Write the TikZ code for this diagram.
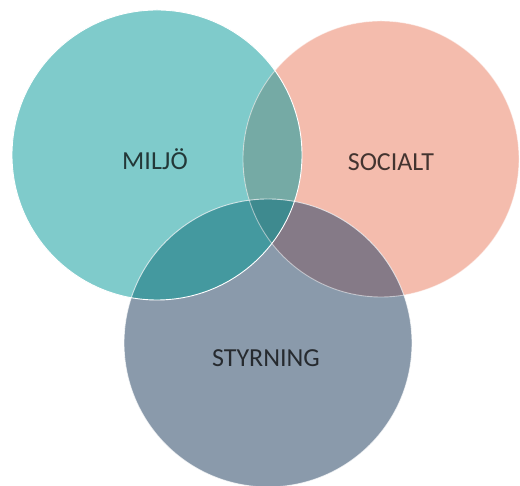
\documentclass[tikz,border=0pt]{standalone}
\usepackage{fontspec}
\setmainfont{Carlito}
\usetikzlibrary{positioning}
\definecolor{miljocolor}{RGB}{127,203,203}
\definecolor{socialcolor}{RGB}{244,188,173}
\definecolor{styrcolor}{RGB}{138,154,171}
\definecolor{mscolor}{RGB}{117,170,165}
\definecolor{mycolor}{RGB}{68,153,159}
\definecolor{sycolor}{RGB}{133,122,135}
\definecolor{allcolor}{RGB}{62,138,143}

\def\miljocircle{(157,331) circle[radius=145]}
\def\socialcircle{(381,327) circle[radius=138]}
\def\styrcircle{(268,143) circle[radius=144]}

\begin{document}
\begin{tikzpicture}[
    x=1pt, y=1pt,
    rim/.style={draw=white, line width=0.9pt},
    label/.style={font=\fontsize{26}{30}\selectfont, anchor=base, text=black, text opacity=0.72}
]
    \useasboundingbox (0,0) rectangle (520,486);

    % Single circles
    \fill[miljocolor] \miljocircle;
    \fill[socialcolor] \socialcircle;
    \fill[styrcolor] \styrcircle;

    % Pairwise overlaps
    \begin{scope}
        \clip \miljocircle;
        \fill[mscolor] \socialcircle;
        \fill[mycolor] \styrcircle;
    \end{scope}
    \begin{scope}
        \clip \socialcircle;
        \fill[sycolor] \styrcircle;
    \end{scope}

    % Centre overlap
    \begin{scope}
        \clip \miljocircle;
        \clip \socialcircle;
        \fill[allcolor] \styrcircle;
    \end{scope}

    % White rims
    \draw[rim, opacity=0.5] \socialcircle;
    \draw[rim, opacity=0.7] \styrcircle;
    \draw[rim] \miljocircle;

    % Labels
    \node[label] (miljo) at (155,316) {MILJÖ};
    \node[label] (social) at (391,315) {SOCIALT};
    \node[label] (styrning) at (266,119) {STYRNING};
\end{tikzpicture}
\end{document}
